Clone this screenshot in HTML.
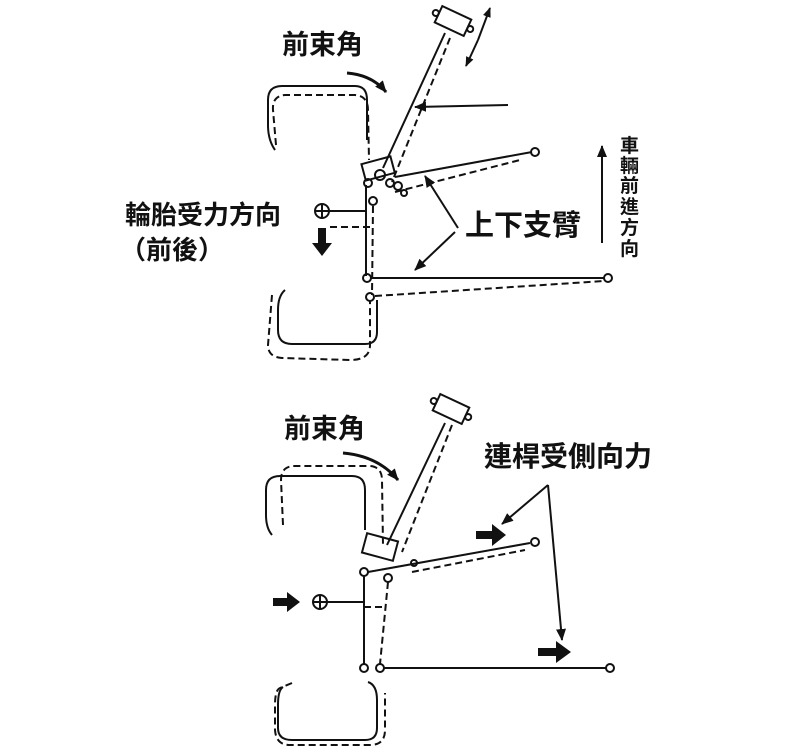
<!DOCTYPE html>
<html><head><meta charset="utf-8"><style>
html,body{margin:0;padding:0;background:#fff;}
svg{display:block}
text{font-family:"Liberation Sans","Noto Sans CJK TC",sans-serif;font-weight:bold;fill:#111}
</style></head><body>
<svg width="800" height="752" viewBox="0 0 800 752" xmlns="http://www.w3.org/2000/svg">
<defs>
<marker id="a" markerWidth="10" markerHeight="10" refX="9" refY="5" orient="auto" markerUnits="userSpaceOnUse"><path d="M0,1 L10,5 L0,9 Z" fill="#111"/></marker>
<marker id="b" markerWidth="12" markerHeight="12" refX="11" refY="6" orient="auto" markerUnits="userSpaceOnUse"><path d="M0,1 L12,6 L0,11 Z" fill="#111"/></marker>
</defs>
<g stroke="#111" stroke-width="2" fill="none">
<!-- TOP DIAGRAM -->
<path d="M347,73 Q372,75 386,92" stroke-width="3" marker-end="url(#b)"/>
<path d="M275,150 Q268,140 268,125 L268,100 Q268,86 282,86 L355,86 Q367,86 367,100 L367,140"/>
<path d="M276,145 L273,110 Q272,96 285,95 L355,95 Q368,96 368,110 L369,160" stroke-dasharray="7,4"/>
<g transform="rotate(25 453 21)"><rect x="437" y="12" width="32" height="18"/><circle cx="434" cy="21" r="3"/><circle cx="472" cy="21" r="3"/></g>
<line x1="445" y1="33" x2="383" y2="168"/>
<line x1="450" y1="38" x2="392" y2="182" stroke-dasharray="7,4"/>
<line x1="478" y1="40" x2="490" y2="8" marker-end="url(#a)"/>
<line x1="478" y1="40" x2="466" y2="66" marker-end="url(#a)"/>
<line x1="508" y1="105" x2="415" y2="107" marker-end="url(#b)"/>
<rect x="363" y="160" width="30" height="17" transform="rotate(-15 378 168)"/>
<circle cx="380" cy="175" r="5"/><circle cx="390" cy="183" r="4"/><circle cx="398" cy="186" r="4"/>
<circle cx="368" cy="183" r="4"/><circle cx="404" cy="193" r="3"/>
<line x1="395" y1="177" x2="532" y2="152"/>
<circle cx="535" cy="152" r="4"/>
<line x1="395" y1="192" x2="520" y2="160" stroke-dasharray="7,4"/>
<line x1="366" y1="185" x2="366" y2="276"/>
<circle cx="373" cy="201" r="4"/>
<line x1="373" y1="206" x2="372" y2="295" stroke-dasharray="7,4"/>
<circle cx="322" cy="211" r="7"/><line x1="315" y1="211" x2="329" y2="211"/><line x1="322" y1="204" x2="322" y2="218"/>
<line x1="329" y1="211" x2="366" y2="211"/>
<line x1="330" y1="227" x2="372" y2="227" stroke-dasharray="7,4"/>
<circle cx="367" cy="278" r="4"/>
<line x1="371" y1="278" x2="604" y2="278"/>
<circle cx="608" cy="278" r="4"/>
<circle cx="370" cy="297" r="4"/>
<line x1="375" y1="296" x2="604" y2="281" stroke-dasharray="7,4"/>
<path d="M285,290 Q278,296 278,310 L278,330 Q278,344 292,344 L365,344 Q377,344 377,332 L377,300"/>
<path d="M272,295 L268,345 Q268,357 282,358 L350,360 Q370,360 370,345 L370,300" stroke-dasharray="7,4"/>
<line x1="458" y1="228" x2="425" y2="176" marker-end="url(#b)"/>
<line x1="455" y1="232" x2="415" y2="270" marker-end="url(#b)"/>
<line x1="602" y1="243" x2="602" y2="146" marker-end="url(#b)"/>

<!-- BOTTOM DIAGRAM -->
<path d="M343,453 Q378,456 398,480" stroke-width="3" marker-end="url(#b)"/>
<path d="M272,535 Q266,528 266,515 L266,490 Q266,476 280,476 L352,476 Q365,476 365,490 L365,530"/>
<path d="M283,525 L281,480 Q281,466 295,466 L370,466 Q382,467 382,480 L383,545" stroke-dasharray="7,4"/>
<g transform="rotate(25 451 409)"><rect x="435" y="400" width="32" height="18"/><circle cx="432" cy="409" r="3"/><circle cx="470" cy="409" r="3"/></g>
<line x1="445" y1="423" x2="387" y2="545"/>
<line x1="452" y1="425" x2="402" y2="552" stroke-dasharray="7,4"/>
<rect x="364" y="537" width="32" height="20" transform="rotate(15 380 547)"/>
<line x1="368" y1="572" x2="530" y2="543"/>
<circle cx="535" cy="542" r="4"/>
<circle cx="414" cy="563" r="3"/>
<line x1="412" y1="572" x2="525" y2="550" stroke-dasharray="7,4"/>
<circle cx="364" cy="572" r="4"/>
<circle cx="388" cy="578" r="4"/>
<line x1="364" y1="576" x2="364" y2="664"/>
<line x1="388" y1="582" x2="380" y2="664" stroke-dasharray="7,4"/>
<circle cx="320" cy="602" r="7"/><line x1="313" y1="602" x2="327" y2="602"/><line x1="320" y1="595" x2="320" y2="609"/>
<line x1="327" y1="602" x2="364" y2="602"/>
<line x1="364" y1="607" x2="386" y2="607" stroke-dasharray="7,4"/>
<circle cx="364" cy="668" r="4"/><circle cx="380" cy="668" r="4"/>
<line x1="384" y1="668" x2="606" y2="668"/>
<circle cx="610" cy="668" r="4"/>
<path d="M283,687 Q278,690 278,705 L278,728 Q278,740 292,740 L365,740 Q377,740 377,728 L377,700 Q377,685 368,682"/>
<path d="M292,683 L280,688 Q275,690 275,705 L275,730 Q276,745 290,745 L370,745 Q385,745 385,730 L385,693" stroke-dasharray="7,4"/>
<line x1="548" y1="485" x2="502" y2="524" marker-end="url(#b)"/>
<line x1="548" y1="485" x2="562" y2="640" marker-end="url(#b)"/>
</g>
<g fill="#111">
<path d="M318,228 L326,228 L326,243 L332,243 L322,256 L312,243 L318,243 Z"/>
<path d="M273,598 L287,598 L287,592 L300,602 L287,612 L287,606 L273,606 Z"/>
<path d="M476,531 L492,531 L492,524 L506,535 L492,546 L492,539 L476,539 Z"/>
<path d="M538,648 L556,648 L556,641 L571,652 L556,663 L556,656 L538,656 Z"/>
</g>
<text x="282" y="54" font-size="27">前束角</text>
<text x="125" y="224" font-size="26">輪胎受力方向</text>
<text x="120" y="259" font-size="26">（前後）</text>
<text x="465" y="235" font-size="29">上下支臂</text>
<text x="284" y="438" font-size="27">前束角</text>
<text x="484" y="466" font-size="28">連桿受側向力</text>
<g font-size="19">
<text x="620" y="152">車</text>
<text x="620" y="172">輛</text>
<text x="620" y="192">前</text>
<text x="620" y="213">進</text>
<text x="620" y="234">方</text>
<text x="620" y="255">向</text>
</g>
</svg>
</body></html>
